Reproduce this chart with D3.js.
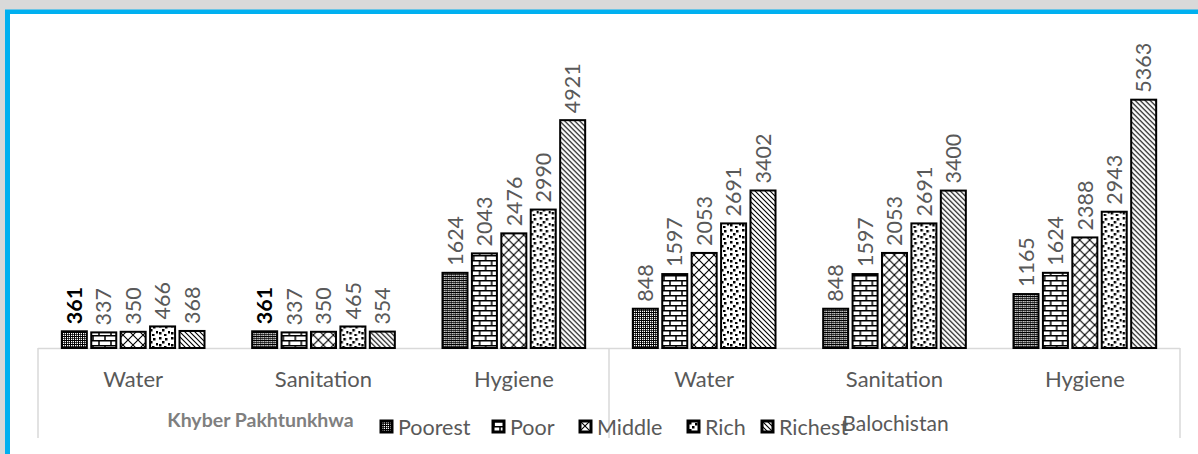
<!DOCTYPE html>
<html><head><meta charset="utf-8">
<script src="https://cdn.jsdelivr.net/npm/d3@7"></script>
<style>html,body{margin:0;padding:0;background:#fff;overflow:hidden}</style>
</head><body>
<script>
const regions = ["Khyber Pakhtunkhwa", "Balochistan"];
const categories = ["Water", "Sanitation", "Hygiene"];
const series = ["Poorest", "Poor", "Middle", "Rich", "Richest"];
const kpWater = [361, 337, 350, 466, 368];
const kpSanitation = [361, 337, 350, 465, 354];
const kpHygiene = [1624, 2043, 2476, 2990, 4921];
const balWater = [848, 1597, 2053, 2691, 3402];
const balSanitation = [848, 1597, 2053, 2691, 3400];
const balHygiene = [1165, 1624, 2388, 2943, 5363];
const yMax = 6000;

const groups = [
  {region: regions[0], cat: categories[0], vals: kpWater},
  {region: regions[0], cat: categories[1], vals: kpSanitation},
  {region: regions[0], cat: categories[2], vals: kpHygiene},
  {region: regions[1], cat: categories[0], vals: balWater},
  {region: regions[1], cat: categories[1], vals: balSanitation},
  {region: regions[1], cat: categories[2], vals: balHygiene}
];
groups.forEach((g, i) => g.key = g.region + "|" + g.cat);

const W = 1198, H = 454;
const svg = d3.select("body").append("svg").attr("width", W).attr("height", H);

// frame
svg.append("rect").attr("width", W).attr("height", H).attr("fill", "#d9d9d9");
svg.append("rect").attr("x", 5).attr("y", 9.5).attr("width", W).attr("height", H).attr("fill", "#00b0f0");
svg.append("rect").attr("x", 10).attr("y", 14).attr("width", W).attr("height", H).attr("fill", "#ffffff");

// patterns
const defs = svg.append("defs");
// Poorest: dense dark lattice
let p = defs.append("pattern").attr("id", "pat0").attr("patternUnits", "userSpaceOnUse").attr("width", 4).attr("height", 4);
p.append("rect").attr("width", 4).attr("height", 4).attr("fill", "#000");
[[1,1],[3,3],[1,3],[3,1]].forEach(([a,b]) => p.append("rect").attr("x", a).attr("y", b).attr("width", 1.3).attr("height", 1.3).attr("fill", "#fff"));
// Poor: bricks
p = defs.append("pattern").attr("id", "pat1").attr("patternUnits", "userSpaceOnUse").attr("width", 12).attr("height", 10);
p.append("rect").attr("width", 12).attr("height", 10).attr("fill", "#fff");
p.append("path").attr("d", "M0,0.75H12M0,5.75H12M1,0V5.75M7,5.75V10").attr("stroke", "#000").attr("stroke-width", 1.5).attr("fill", "none");
// Middle: diamond lattice
p = defs.append("pattern").attr("id", "pat2").attr("patternUnits", "userSpaceOnUse").attr("width", 10).attr("height", 10);
p.append("rect").attr("width", 10).attr("height", 10).attr("fill", "#fff");
p.append("path").attr("d", "M0,0L10,10M10,0L0,10").attr("stroke", "#000").attr("stroke-width", 1.1).attr("fill", "none");
// Rich: confetti
p = defs.append("pattern").attr("id", "pat3").attr("patternUnits", "userSpaceOnUse").attr("width", 12).attr("height", 12);
p.append("rect").attr("width", 12).attr("height", 12).attr("fill", "#fff");
[[1,1],[7,2],[4,5],[10,7],[1,8],[6,10]].forEach(([a,b]) => p.append("rect").attr("x", a).attr("y", b).attr("width", 2.5).attr("height", 2.5).attr("fill", "#000"));
// Richest: downward diagonal stripes
p = defs.append("pattern").attr("id", "pat4").attr("patternUnits", "userSpaceOnUse").attr("width", 5).attr("height", 5);
p.append("rect").attr("width", 5).attr("height", 5).attr("fill", "#fff");
p.append("path").attr("d", "M-1,-1L6,6M-1,4L1,6M4,-1L6,1").attr("stroke", "#000").attr("stroke-width", 1.1).attr("fill", "none");

const x0 = d3.scaleBand().domain(groups.map(g => g.key)).range([38, 1180]);
const x1 = d3.scaleBand().domain(series).range([0, x0.bandwidth()]).paddingInner(0.15).paddingOuter(0.81);
const y = d3.scaleLinear().domain([0, yMax]).range([348, 348 - yMax * 0.0463]);

const fontF = "Lato, 'Open Sans', sans-serif";

// axis box lines
const axisG = svg.append("g");
axisG.append("line").attr("x1", 38).attr("x2", 1180).attr("y1", 348.5).attr("y2", 348.5).attr("stroke", "#d9d9d9").attr("stroke-width", 1.5);
const regionBounds = regions.map(r => {
  const ks = groups.filter(g => g.region === r).map(g => g.key);
  return [x0(ks[0]), x0(ks[ks.length - 1]) + x0.bandwidth()];
});
const splitXs = [regionBounds[0][0], regionBounds[0][1], regionBounds[1][1]];
splitXs.forEach(xx => axisG.append("line").attr("x1", xx).attr("x2", xx).attr("y1", 348).attr("y2", 438).attr("stroke", "#d9d9d9").attr("stroke-width", 1.5));

// bars
const gg = svg.selectAll("g.grp").data(groups).join("g").attr("class", "grp").attr("transform", d => `translate(${x0(d.key)},0)`);
gg.selectAll("rect").data(d => d.vals.map((v, i) => ({v, s: series[i], i, g: d})))
  .join("rect")
  .attr("x", d => x1(d.s)).attr("width", x1.bandwidth())
  .attr("y", d => y(d.v)).attr("height", d => y(0) - y(d.v))
  .attr("fill", d => `url(#pat${d.i})`).attr("stroke", "#000").attr("stroke-width", 2);

gg.selectAll("text.val").data(d => d.vals.map((v, i) => ({v, s: series[i], i, g: d})))
  .join("text").attr("class", "val")
  .attr("transform", d => `translate(${x1(d.s) + x1.bandwidth() / 2},${y(d.v) - 7}) rotate(-90)`)
  .attr("dy", "0.36em")
  .attr("font-family", fontF).attr("font-size", 21.5)
  .attr("font-weight", d => d.v === 361 ? "bold" : "normal")
  .attr("fill", d => d.v === 361 ? "#000" : "#595959")
  .text(d => d.v);

// category labels
svg.selectAll("text.cat").data(groups).join("text").attr("class", "cat")
  .attr("x", d => x0(d.key) + x0.bandwidth() / 2).attr("y", 387)
  .attr("text-anchor", "middle").attr("font-family", fontF).attr("font-size", 22).attr("fill", "#595959")
  .text(d => d.cat);

// region labels
svg.append("text").attr("x", (regionBounds[0][0] + regionBounds[0][1]) / 2 - 63).attr("y", 427)
  .attr("text-anchor", "middle").attr("font-family", fontF).attr("font-size", 19.5).attr("font-weight", "bold").attr("fill", "#7f7f7f")
  .text(regions[0]);
svg.append("text").attr("x", (regionBounds[1][0] + regionBounds[1][1]) / 2 + 1).attr("y", 431)
  .attr("text-anchor", "middle").attr("font-family", fontF).attr("font-size", 21).attr("fill", "#595959")
  .text(regions[1]);

// legend
const legX = [381, 493, 580, 688, 762];
const leg = svg.selectAll("g.leg").data(series).join("g").attr("class", "leg")
  .attr("transform", (d, i) => `translate(${legX[i]},421)`);
leg.append("rect").attr("width", 11).attr("height", 11).attr("fill", (d, i) => `url(#pat${i})`).attr("stroke", "#000").attr("stroke-width", 3);
leg.append("text").attr("x", 17).attr("y", 6).attr("dy", "0.36em").attr("font-family", fontF).attr("font-size", 21.5).attr("fill", "#595959").text(d => d);
</script>
</body></html>
